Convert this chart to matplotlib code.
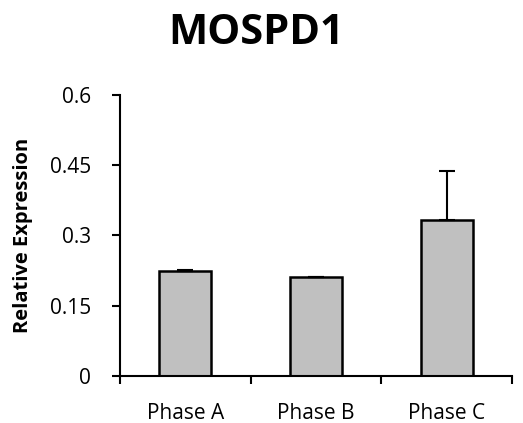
import matplotlib.pyplot as plt
import numpy as np

categories = ['Phase A', 'Phase B', 'Phase C']
values = [0.224, 0.211, 0.333]
errors = [0.002, 0.001, 0.105]
yticks = [0, 0.15, 0.3, 0.45, 0.6]
ytick_labels = ['0', '0.15', '0.3', '0.45', '0.6']

plt.rcParams['font.family'] = ['Open Sans', 'DejaVu Sans']

fig = plt.figure(figsize=(5.23, 4.23), dpi=100)
ax = fig.add_axes([120/523, 47.3/423, 392/523, 280.7/423])

x = np.arange(len(categories))
ax.bar(x, values, width=0.4, color='#c0c0c0', edgecolor='black', linewidth=1.8, zorder=2)
ax.errorbar(x, values, yerr=[np.zeros(len(errors)), errors], fmt='none',
            ecolor='black', elinewidth=1.5, capsize=6, capthick=1.5, zorder=3)

ax.set_xlim(-0.5, 2.5)
ax.set_ylim(0, 0.6)
ax.set_yticks(yticks)
ax.set_yticklabels(ytick_labels, fontsize=15)
ax.set_xticks([-0.5, 0.5, 1.5, 2.5])
ax.set_xticklabels([])
ax.set_xticks(x, minor=True)
ax.set_xticklabels(categories, minor=True, fontsize=15)
ax.tick_params(axis='x', which='minor', length=0, pad=20)
ax.tick_params(axis='y', which='major', pad=15)
ax.tick_params(axis='both', which='major', length=6, width=1.5, direction='out')

for s in ['top', 'right']:
    ax.spines[s].set_visible(False)
for s in ['left', 'bottom']:
    ax.spines[s].set_linewidth(1.5)

ax.set_ylabel('Relative Expression', fontsize=14.5, fontweight='bold')
ax.yaxis.set_label_coords(-0.222, 0.5)
fig.text(0.49, 0.92, 'MOSPD1', fontsize=30, fontweight='bold', ha='center', va='center')

fig.savefig('out.png', dpi=100)
